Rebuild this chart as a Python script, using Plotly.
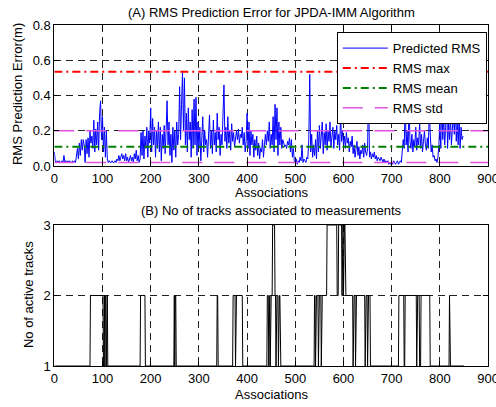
import numpy as np
import plotly.graph_objects as go

# (A) predicted RMS error, one value every 2 associations
rms_pred = [
    0.08, 0.03, 0.02, 0.03, 0.02, 0.03, 0.02, 0.02, 0.03, 0.02,
    0.06, 0.02, 0.03, 0.02, 0.03, 0.02, 0.03, 0.02, 0.02, 0.03,
    0.02, 0.03, 0.02, 0.05, 0.10, 0.04, 0.13, 0.06, 0.15, 0.09,
    0.15, 0.12, 0.02, 0.15, 0.07, 0.16, 0.05, 0.20, 0.13, 0.17,
    0.10, 0.26, 0.08, 0.21, 0.12, 0.25, 0.09, 0.30, 0.37, 0.15,
    0.28, 0.08, 0.22, 0.05, 0.20, 0.04, 0.02, 0.03, 0.02, 0.02,
    0.03, 0.02, 0.02, 0.03, 0.02, 0.04, 0.03, 0.06, 0.03, 0.05,
    0.07, 0.04, 0.06, 0.03, 0.07, 0.03, 0.05, 0.02, 0.04, 0.06,
    0.03, 0.05, 0.02, 0.07, 0.04, 0.09, 0.03, 0.06, 0.02, 0.04,
    0.19, 0.06, 0.20, 0.04, 0.17, 0.10, 0.22, 0.05, 0.20, 0.13,
    0.33, 0.08, 0.27, 0.12, 0.22, 0.05, 0.20, 0.10, 0.25, 0.08,
    0.22, 0.03, 0.18, 0.10, 0.23, 0.07, 0.20, 0.37, 0.12, 0.25,
    0.06, 0.18, 0.02, 0.22, 0.09, 0.20, 0.05, 0.25, 0.12, 0.18,
    0.45, 0.15, 0.35, 0.53, 0.20, 0.50, 0.12, 0.30, 0.08, 0.33,
    0.15, 0.25, 0.05, 0.32, 0.10, 0.38, 0.12, 0.39, 0.06, 0.25,
    0.10, 0.22, 0.03, 0.18, 0.28, 0.08, 0.20, 0.12, 0.15, 0.05,
    0.22, 0.29, 0.10, 0.20, 0.07, 0.26, 0.12, 0.19, 0.08, 0.30,
    0.15, 0.22, 0.06, 0.18, 0.12, 0.25, 0.46, 0.14, 0.22, 0.10,
    0.28, 0.13, 0.20, 0.09, 0.24, 0.14, 0.19, 0.11, 0.17, 0.20,
    0.15, 0.21, 0.13, 0.18, 0.16, 0.22, 0.12, 0.19, 0.08, 0.14,
    0.30, 0.10, 0.25, 0.06, 0.20, 0.12, 0.18, 0.05, 0.15, 0.09,
    0.17, 0.06, 0.13, 0.04, 0.10, 0.08, 0.15, 0.05, 0.12, 0.18,
    0.12, 0.20, 0.14, 0.25, 0.10, 0.18, 0.12, 0.28, 0.08, 0.35,
    0.15, 0.33, 0.06, 0.25, 0.12, 0.22, 0.10, 0.15, 0.13, 0.11,
    0.12, 0.10, 0.14, 0.12, 0.16, 0.08, 0.15, 0.05, 0.10, 0.03,
    0.02, 0.04, 0.01, 0.03, 0.02, 0.05, 0.03, 0.12, 0.02, 0.04,
    0.03, 0.02, 0.05, 0.04, 0.15, 0.52, 0.08, 0.18, 0.05, 0.12,
    0.06, 0.15, 0.04, 0.20, 0.08, 0.23, 0.10, 0.18, 0.25, 0.07,
    0.19, 0.12, 0.24, 0.09, 0.20, 0.14, 0.25, 0.11, 0.18, 0.22,
    0.10, 0.20, 0.15, 0.23, 0.12, 0.18, 0.09, 0.30, 0.14, 0.20,
    0.12, 0.17, 0.10, 0.19, 0.13, 0.16, 0.08, 0.14, 0.11, 0.17,
    0.07, 0.12, 0.05, 0.10, 0.14, 0.06, 0.11, 0.04, 0.09, 0.07,
    0.12, 0.05, 0.13, 0.08, 0.06, 0.10, 0.45, 0.05, 0.08, 0.04,
    0.07, 0.05, 0.08, 0.04, 0.06, 0.03, 0.05, 0.04, 0.03, 0.05,
    0.03, 0.02, 0.04, 0.02, 0.03, 0.02, 0.03, 0.01, 0.02, 0.01,
    0.02, 0.01, 0.03, 0.02, 0.01, 0.02, 0.03, 0.01, 0.02, 0.03,
    0.02, 0.08, 0.15, 0.10, 0.38, 0.12, 0.20, 0.08, 0.35, 0.14,
    0.10, 0.18, 0.08, 0.15, 0.11, 0.22, 0.09, 0.16, 0.12, 0.25,
    0.10, 0.18, 0.08, 0.14, 0.20, 0.12, 0.09, 0.16, 0.10, 0.30,
    0.13, 0.08, 0.12, 0.05, 0.06, 0.03, 0.04, 0.02, 0.05, 0.12,
    0.25, 0.10, 0.40, 0.15, 0.28, 0.12, 0.22, 0.38, 0.10, 0.25,
    0.15, 0.28, 0.12, 0.20, 0.30, 0.18, 0.38, 0.14, 0.25, 0.12,
    0.28, 0.10, 0.22, 0.15, 0.17,
]
rms_max = 0.535
rms_mean = 0.11
rms_std_hi = 0.20
rms_std_lo = 0.02

# (B) number of tracks, as (value, run length) starting at association 1
track_vals = [
    1, 2, 1, 2, 1, 2, 1, 2, 1, 2,
    1, 2, 1, 2, 1, 2, 1, 2, 1, 2,
    1, 2, 1, 2, 1, 2, 3, 2, 1, 2,
    1, 2, 1, 2, 1, 2, 1, 2, 1, 2,
    3, 2, 3, 2, 3, 2, 3, 2, 1, 2,
    1, 2, 1, 2, 1, 2, 1, 2, 1, 2,
    1, 2, 1, 2, 1, 2, 1,
]
track_runs = [
    74, 27, 2, 1, 1, 2, 1, 2, 68, 10,
    60, 1, 1, 2, 85, 2, 31, 5, 1, 14,
    51, 3, 1, 2, 1, 4, 5, 2, 1, 4,
    1, 3, 71, 2, 1, 5, 1, 5, 1, 11,
    21, 3, 7, 1, 2, 1, 3, 16, 1, 4,
    1, 19, 1, 4, 1, 5, 59, 11, 2, 24,
    1, 5, 3, 19, 40, 1, 30,
]

x_rms = np.arange(len(rms_pred)) * 2
tracks = np.repeat(track_vals, track_runs)
x_trk = np.arange(1, len(tracks) + 1)

font = dict(family="Liberation Sans, Arial, sans-serif", size=13, color="black")

fig = go.Figure()
fig.add_trace(go.Scatter(x=x_rms, y=rms_pred, mode="lines", name="Predicted RMS",
                         line=dict(color="#0000ff", width=1)))
fig.add_trace(go.Scatter(x=[0, 900], y=[rms_max, rms_max], mode="lines", name="RMS max",
                         line=dict(color="#ff0000", width=2, dash="8px,4px,2px,4px")))
fig.add_trace(go.Scatter(x=[0, 900], y=[rms_mean, rms_mean], mode="lines", name="RMS mean",
                         line=dict(color="#008000", width=2, dash="8px,4px,2px,4px")))
fig.add_trace(go.Scatter(x=[0, 900], y=[rms_std_hi, rms_std_hi], mode="lines", name="RMS std",
                         line=dict(color="#dd55dd", width=1.5, dash="20px,12px")))
fig.add_trace(go.Scatter(x=[0, 900], y=[rms_std_lo, rms_std_lo], mode="lines", showlegend=False,
                         line=dict(color="#dd55dd", width=1.5, dash="20px,12px")))
fig.add_trace(go.Scatter(x=x_trk, y=tracks, mode="lines", showlegend=False,
                         line=dict(color="black", width=1), xaxis="x2", yaxis="y2"))

ax = dict(showline=True, linecolor="black", linewidth=1, mirror="ticks",
          ticks="inside", ticklen=5, tickcolor="black", zeroline=False,
          showgrid=True, gridcolor="#222222", gridwidth=1, griddash="7px,5px",
          tickfont=font, automargin=False, ticklabeloverflow="allow")

fig.update_layout(
    template="none",
    width=496, height=407,
    margin=dict(l=0, r=0, t=0, b=0, autoexpand=False),
    paper_bgcolor="white", plot_bgcolor="white",
    font=font,
    xaxis=dict(ax, domain=[0.1095, 0.984], range=[0, 900], dtick=100, anchor="y"),
    yaxis=dict(ax, domain=[0.592, 0.9386], range=[0, 0.8], dtick=0.2, tickformat=".1f", anchor="x"),
    xaxis2=dict(ax, domain=[0.1095, 0.984], range=[0, 900], dtick=100, anchor="y2"),
    yaxis2=dict(ax, domain=[0.1007, 0.4472], range=[1, 3], dtick=1, anchor="x2"),
    legend=dict(x=0.679, y=0.921, xanchor="left", yanchor="top", itemwidth=45,
                bgcolor="white", bordercolor="black", borderwidth=1, font=font),
    showlegend=True,
)

notes = [
    ("(A) RMS Prediction Error for JPDA-IMM Algorithm", 0.547, 0.9705, 0),
    ("Associations", 0.547, 0.5258, 0),
    ("(B) No of tracks associated to measurements", 0.547, 0.484, 0),
    ("Associations", 0.547, 0.0319, 0),
    ("RMS Prediction Error(m)", 0.0343, 0.7690, -90),
    ("No of active tracks", 0.0565, 0.275, -90),
]
for text, x, y, ang in notes:
    fig.add_annotation(text=text, x=x, y=y, xref="paper", yref="paper",
                       xanchor="center", yanchor="middle", showarrow=False,
                       textangle=ang, font=font)

page_css = ("document.documentElement.style.margin='0';"
            "document.body.style.margin='0';"
            "document.documentElement.style.overflow='hidden';"
            "document.body.style.overflow='hidden';")
fig.write_html("out.html", config={"displayModeBar": False}, post_script=page_css)
